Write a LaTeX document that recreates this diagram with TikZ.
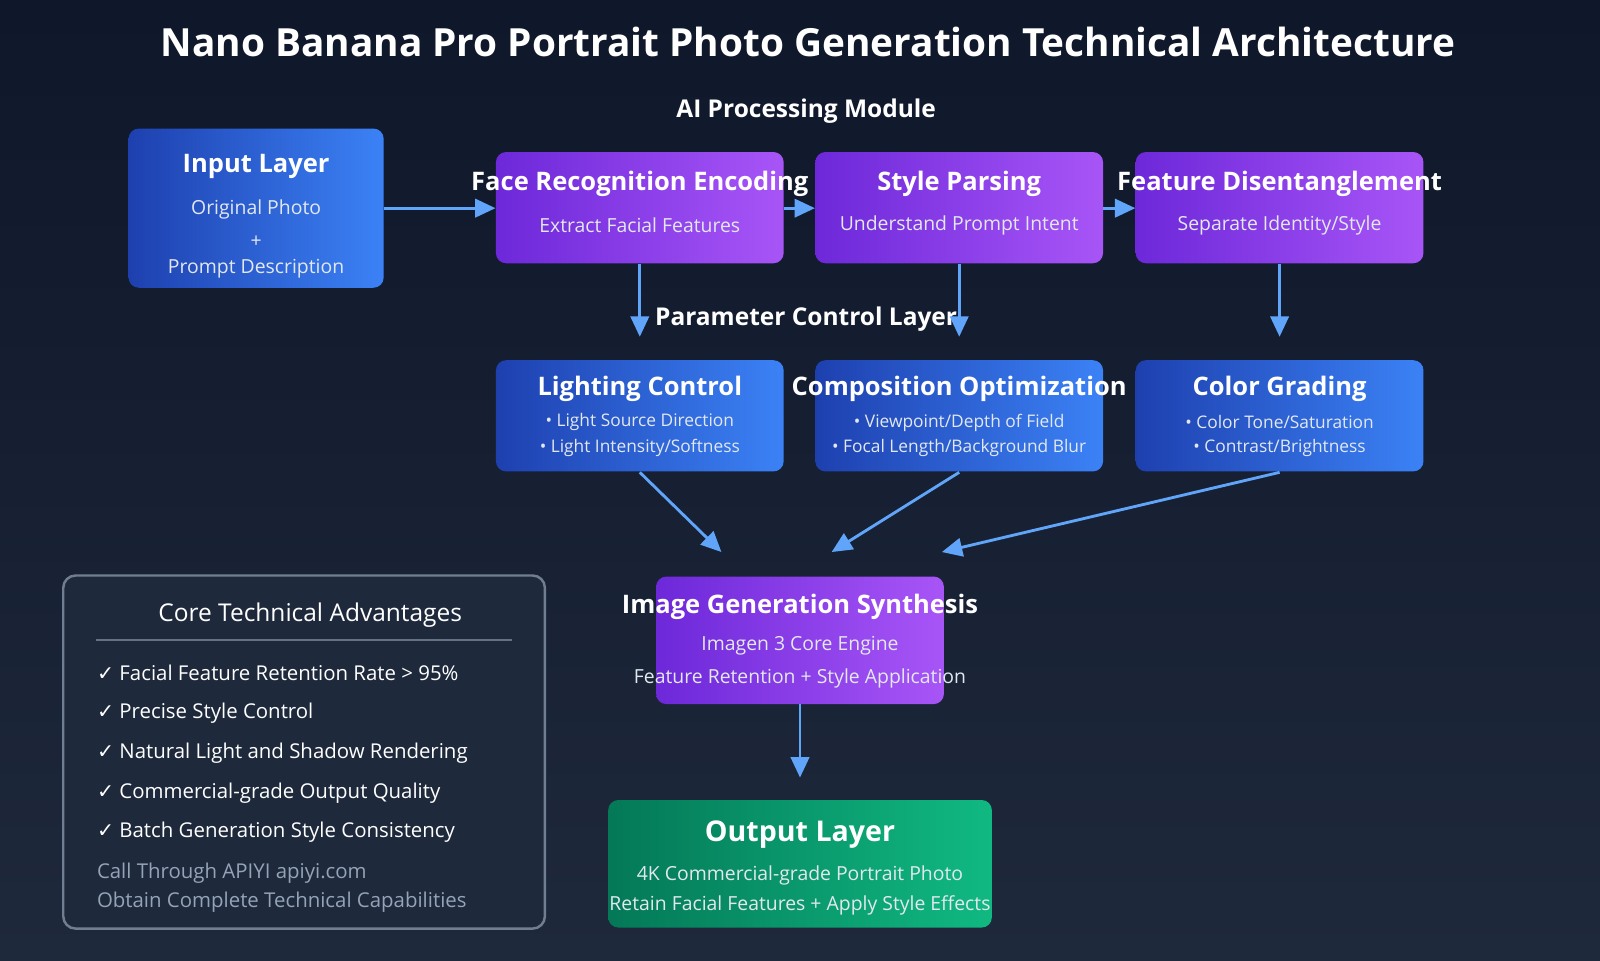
\documentclass[tikz,border=0pt]{standalone}
\usepackage{fontspec}
\setmainfont{Open Sans}
\newfontfamily\sym{DejaVu Sans}
\usetikzlibrary{arrows.meta}
\definecolor{bgA}{HTML}{0F172A}
\definecolor{bgB}{HTML}{1E293B}
\definecolor{blA}{HTML}{1E40AF}
\definecolor{blB}{HTML}{3B82F6}
\definecolor{puA}{HTML}{6D28D9}
\definecolor{puB}{HTML}{A855F7}
\definecolor{grA}{HTML}{047857}
\definecolor{grB}{HTML}{10B981}
\definecolor{arr}{HTML}{60A5FA}
\definecolor{sub}{HTML}{E2E8F0}
\definecolor{gry}{HTML}{94A3B8}
\tikzset{
 box/.style={rounded corners=5pt, inner sep=0pt},
 bluebox/.style={box, shading=axis, shading angle=135, left color=blA, right color=blB},
 purplebox/.style={box, shading=axis, left color=puA, right color=puB},
 greenbox/.style={box, shading=axis, left color=grA, right color=grB},
 ttl/.style={text=white, font=\bfseries\fontsize{12.5}{14}\selectfont},
 st/.style={text=sub, font=\fontsize{9.5}{11}\selectfont},
 bl/.style={text=sub, font=\fontsize{8.5}{10}\selectfont},
 flow/.style={draw=arr, line width=1.4pt, -{Triangle[length=10pt,width=9pt]}},
 adv/.style={text=white, anchor=west, font=\fontsize{10}{12}\selectfont},
}
\begin{document}
\begin{tikzpicture}[x=0.5pt,y=-0.5pt]
\useasboundingbox (0,0) rectangle (1568,941);
\shade[top color=bgA, bottom color=bgB] (0,0) rectangle (1568,941);
\node[text=white, font=\bfseries\fontsize{19}{22}\selectfont] (title) at (792,41) {Nano Banana Pro Portrait Photo Generation Technical Architecture};
\node[text=white, font=\bfseries\fontsize{12}{14}\selectfont] (aim) at (790,109) {AI Processing Module};
\node[text=white, font=\bfseries\fontsize{12}{14}\selectfont] (pcl) at (790,313) {Parameter Control Layer};
% input
\path[bluebox] (126,126) rectangle (376,282);
\node (in) at (251,204) [minimum width=125pt, minimum height=78pt] {};
\node[ttl] at (251,163) {Input Layer};
\node[st] at (251,205) {Original Photo};
\node[st] at (251,237) {+};
\node[st] at (251,263) {Prompt Description};
% AI row
\foreach \n/\x/\t/\s in {face/627/{Face Recognition Encoding}/{Extract Facial Features}, sty/940/{Style Parsing}/{Understand Prompt Intent}, feat/1254/{Feature Disentanglement}/{Separate Identity/Style}}{
 \path[purplebox] (\x-141,149) rectangle (\x+141,258);
 \node (\n) at (\x,204) [minimum width=141pt, minimum height=54.5pt] {};
 \node[ttl] at (\x,180) {\t};
 \node[st] at (\x,221) {\s};
}
% param row
\foreach \n/\x/\t/\a/\b in {lig/627/{Lighting Control}/{Light Source Direction}/{Light Intensity/Softness}, com/940/{Composition Optimization}/{Viewpoint/Depth of Field}/{Focal Length/Background Blur}, col/1254/{Color Grading}/{Color Tone/Saturation}/{Contrast/Brightness}}{
 \path[bluebox] (\x-141,353) rectangle (\x+141,462);
 \node (\n) at (\x,408) [minimum width=141pt, minimum height=54.5pt] {};
 \node[ttl] at (\x,381) {\t};
 \node[bl] at (\x,414) {• \a};
 \node[bl] at (\x,439) {• \b};
}
% image gen
\path[purplebox] (643,565) rectangle (925,690);
\node (gen) at (784,627) [minimum width=141pt, minimum height=62.5pt] {};
\node[ttl] at (784,595) {Image Generation Synthesis};
\node[st] at (784,633) {Imagen 3 Core Engine};
\node[st] at (784,665) {Feature Retention + Style Application};
% output
\path[greenbox] (596,784) rectangle (972,909);
\node (out) at (784,846) [minimum width=188pt, minimum height=62.5pt] {};
\node[ttl, font=\bfseries\fontsize{14}{16}\selectfont] at (784,818) {Output Layer};
\node[st] at (784,858) {4K Commercial-grade Portrait Photo};
\node[st] at (784,887) {Retain Facial Features + Apply Style Effects};
% arrows
\draw[flow] (in.east) -- (face.west);
\draw[flow] (face.east) -- (sty.west);
\draw[flow] (sty.east) -- (feat.west);
\draw[flow] (face.south) -- (627,330);
\draw[flow] (sty.south) -- (940,330);
\draw[flow] (feat.south) -- (1254,330);
\coordinate (g1) at (707,541); \coordinate (g2) at (815,541); \coordinate (g3) at (923,541);
\draw[flow] (lig.south) -- (g1);
\draw[flow] (com.south) -- (g2);
\draw[flow] (col.south) -- (g3);
\coordinate (o1) at (784,762);
\draw[flow] (gen.south) -- (o1);
% advantages
\draw[draw=gry!70!bgB, line width=1.2pt, fill=bgB, rounded corners=6pt] (62,564) rectangle (534,910);
\node (advt) [text=white, font=\fontsize{12}{14}\selectfont] at (304,603) {Core Technical Advantages};
\draw[gry!60!bgB, line width=0.8pt] (94,627) -- (502,627);
\foreach \y/\t in {659/{Facial Feature Retention Rate > 95\%}, 699/{Precise Style Control}, 738/{Natural Light and Shadow Rendering}, 777/{Commercial-grade Output Quality}, 816/{Batch Generation Style Consistency}}{
 \node[adv] at (88,\y) {{\sym ✓} \t};
}
\node[adv, text=gry] at (88,856) {Call Through APIYI apiyi.com};
\node[adv, text=gry] at (88,884) {Obtain Complete Technical Capabilities};
\end{tikzpicture}
\end{document}
